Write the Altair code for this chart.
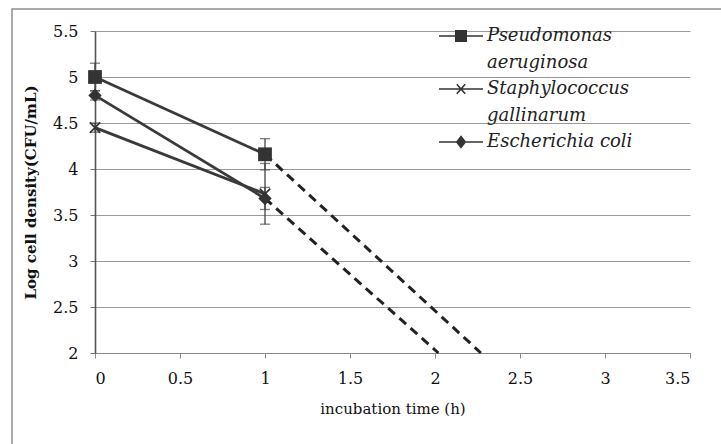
import altair as alt
import pandas as pd

# ---- data ----
species = ["Pseudomonas aeruginosa", "Staphylococcus gallinarum", "Escherichia coli"]
time_h = [0, 1]
pseudomonas = [5.00, 4.16]
pseudomonas_err = [0.15, 0.17]
staphylococcus = [4.45, 3.73]
staphylococcus_err = [0.05, 0.33]
ecoli = [4.80, 3.68]
ecoli_err = [0.05, 0.12]

# dashed extrapolation lines
extrap_series = ["Pseudomonas aeruginosa", "Escherichia coli"]
extrap_time = [[1, 2.27], [1, 2.02]]
extrap_value = [[4.16, 2.0], [3.68, 2.0]]

x_ticks = [0, 0.5, 1, 1.5, 2, 2.5, 3, 3.5]
y_ticks = [2, 2.5, 3, 3.5, 4, 4.5, 5, 5.5]

legend_lines = ["Pseudomonas", "aeruginosa", "Staphylococcus", "gallinarum", "Escherichia coli"]


def hatch_square(h):
    p = "M-2.2,0H2.2M-{0},-{0}H{0}V{0}H-{0}Z".format(h)
    for y in [-0.4, -0.27, -0.13, 0.0, 0.13, 0.27, 0.4]:
        p += "M-{0},{1}H{0}".format(h, y)
    return p


def hatch_diamond(w, h):
    p = "M-2.2,0H2.2M0,-{1}L{0},0L0,{1}L-{0},0Z".format(w, h)
    for y in [-0.39, -0.26, -0.13, 0.0, 0.13, 0.26, 0.39]:
        hw = round(w * (1 - abs(y) / h), 3)
        p += "M-{0},{1}H{0}".format(hw, y)
    return p


legend_paths = [
    hatch_square(0.52),
    "M0,0",
    "M-2.2,0H2.2M-0.42,-0.48L0.42,0.48M-0.42,0.48L0.42,-0.48",
    "M0,0",
    hatch_diamond(0.42, 0.55),
]

FONT = "DejaVu Serif"
INK = "#333333"

rows = []
for name, vals, errs in [(species[0], pseudomonas, pseudomonas_err),
                         (species[1], staphylococcus, staphylococcus_err),
                         (species[2], ecoli, ecoli_err)]:
    for t, v, e in zip(time_h, vals, errs):
        rows.append({"series": name, "time": t, "value": v, "lo": v - e, "hi": v + e})
df = pd.DataFrame(rows)

erows = []
for name, ts, vs in zip(extrap_series, extrap_time, extrap_value):
    for t, v in zip(ts, vs):
        erows.append({"series": name, "time": t, "value": v})
edf = pd.DataFrame(erows)

xs = alt.Scale(domain=[0, 3.5], nice=False, zero=False)
ys = alt.Scale(domain=[2, 5.5], nice=False, zero=False)

X = alt.X("time:Q", scale=xs, axis=alt.Axis(
    values=x_ticks, format="~g", title="incubation time (h)", grid=False,
    domainColor="#8a8a8a", domainWidth=1.2, tickColor="#8a8a8a", tickSize=5,
    labelFont=FONT, labelFontSize=16, labelColor="#111", labelPadding=12,
    titleFont=FONT, titleFontSize=15, titleFontWeight="normal", titleColor="#111",
    titlePadding=15))
Y = alt.Y("value:Q", scale=ys, axis=alt.Axis(
    values=y_ticks, format="~g", title="Log cell density(CFU/mL)", grid=True,
    gridColor="#9a9a9a", gridWidth=1.2, domainColor="#555", domainWidth=1.6,
    tickColor="#777", tickSize=5, labelFont=FONT, labelFontSize=16,
    labelColor="#111", labelPadding=12, titleFont=FONT, titleFontSize=15,
    titleFontWeight="bold", titleColor="#111", titlePadding=14))

base = alt.Chart(df)

frame = alt.Chart(pd.DataFrame({"k": [0]})).mark_rect(
    fill="transparent", stroke="#8f8f8f", strokeWidth=1.5
).encode(x=alt.value(-83), y=alt.value(-22), x2=alt.value(700), y2=alt.value(500))

err_rule = base.mark_rule(color="#444", strokeWidth=1.3).encode(
    x="time:Q", y=alt.Y("lo:Q", scale=ys), y2="hi:Q")
cap_hi = base.mark_tick(orient="horizontal", color="#444", size=10, thickness=1.3).encode(
    x="time:Q", y=alt.Y("hi:Q", scale=ys))
cap_lo = base.mark_tick(orient="horizontal", color="#444", size=10, thickness=1.3).encode(
    x="time:Q", y=alt.Y("lo:Q", scale=ys))

lines = base.mark_line(color="#3a3a3a", strokeWidth=2.8).encode(
    x=X, y=Y, detail="series:N")

dashed = alt.Chart(edf).mark_line(color="#222", strokeWidth=3, strokeDash=[9, 6]).encode(
    x="time:Q", y="value:Q", detail="series:N")

pts_sq = base.transform_filter(alt.datum.series == species[0]).mark_point(
    shape="square", filled=True, size=190, color=INK, opacity=1).encode(x="time:Q", y="value:Q")
pts_x = base.transform_filter(alt.datum.series == species[1]).mark_point(
    shape="M-1,-1L1,1M-1,1L1,-1", filled=False, size=110, color=INK, strokeWidth=1.6,
    opacity=1).encode(x="time:Q", y="value:Q")
pts_d = base.transform_filter(alt.datum.series == species[2]).mark_point(
    shape="diamond", filled=True, size=180, color=INK, opacity=1).encode(x="time:Q", y="value:Q")

leg = alt.Chart(pd.DataFrame({"entry": legend_lines})).mark_point(
    filled=False, color=INK, strokeWidth=1.6
).encode(
    x=alt.value(-400), y=alt.value(-400),
    shape=alt.Shape("entry:N", scale=alt.Scale(domain=legend_lines, range=legend_paths),
                    legend=alt.Legend(
                        title=None, orient="none", legendX=355, legendY=-6,
                        labelFont=FONT, labelFontStyle="italic", labelFontSize=18,
                        labelColor="#222", labelLimit=400, labelOffset=15,
                        symbolSize=400, symbolStrokeWidth=1.6, symbolStrokeColor=INK,
                        symbolFillColor=INK, symbolOpacity=1, rowPadding=6.5, padding=0)))

chart = alt.layer(frame, lines, dashed, err_rule, cap_hi, cap_lo, pts_sq, pts_x, pts_d, leg).properties(
    width=595, height=322,
    padding={"left": 95, "top": 31, "right": 31, "bottom": 91},
    autosize=alt.AutoSizeParams(type="none"),
    background="white",
).configure_view(stroke="transparent")

chart.save("out.html", embed_options={"renderer": "svg", "actions": False})
